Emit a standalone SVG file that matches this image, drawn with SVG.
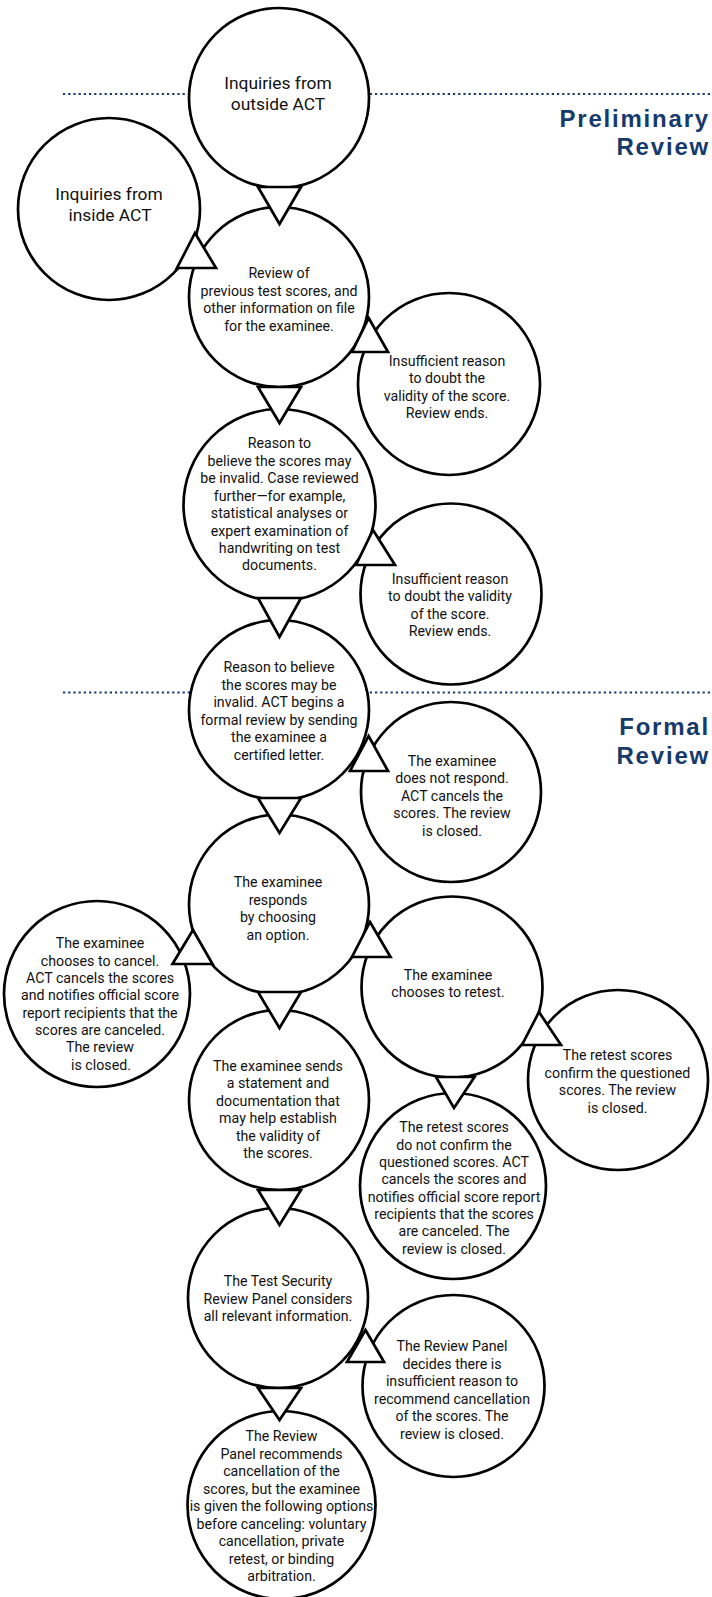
<svg xmlns="http://www.w3.org/2000/svg" width="712" height="1597" viewBox="0 0 712 1597">
<style>
.c{fill:#fff;stroke:#000;stroke-width:2.7}
.t{fill:#fff;stroke:#000;stroke-width:2.7;stroke-linejoin:miter}
.s{font-family:Roboto,"Liberation Sans",sans-serif;font-size:14.2px;fill:#111;text-anchor:middle}
.l{font-family:Roboto,"Liberation Sans",sans-serif;font-size:17.4px;fill:#111;text-anchor:middle}
.h{font-family:"Liberation Sans",Arial,sans-serif;font-size:24px;font-weight:700;fill:#173a6c;text-anchor:end;letter-spacing:1.8px}
.d{stroke:#173a6c;stroke-width:2.2;stroke-dasharray:2.2 3;fill:none}
</style>
<rect width="712" height="1597" fill="#fff"/>
<g id="section-lines">
<line class="d" x1="63" y1="94" x2="710" y2="94"/>
<line class="d" x1="63" y1="692.5" x2="710" y2="692.5"/>
</g>
<g id="section-titles">
<text class="h"><tspan x="710" y="127">Preliminary</tspan><tspan x="710" y="154.5">Review</tspan></text>
<text class="h"><tspan x="710" y="735">Formal</tspan><tspan x="710" y="763.5">Review</tspan></text>
</g>
<g id="n-outside"><circle class="c" cx="279" cy="98" r="90"/>
<text class="l" x="278" y="89">Inquiries from</text><text class="l" x="278" y="110">outside ACT</text></g>
<g id="n-inside"><circle class="c" cx="109" cy="209" r="91"/>
<text class="l" x="109" y="200">Inquiries from</text><text class="l" x="110" y="221">inside ACT</text></g>
<g id="n-review"><circle class="c" cx="279" cy="297" r="90"/>
<text class="s" x="279"><tspan x="279" y="277.5">Review of</tspan><tspan x="279" y="295.5">previous test scores, and</tspan><tspan x="279" y="313">other information on file</tspan><tspan x="279" y="331">for the examinee.</tspan></text></g>
<g id="n-insuff1"><circle class="c" cx="449" cy="384" r="91"/>
<text class="s"><tspan x="447" y="365.5">Insufficient reason</tspan><tspan x="447" y="383">to doubt the</tspan><tspan x="447" y="401">validity of the score.</tspan><tspan x="447" y="418">Review ends.</tspan></text></g>
<g id="n-reason"><circle class="c" cx="279.5" cy="505" r="96"/>
<text class="s"><tspan x="279.5" y="448">Reason to</tspan><tspan x="279.5" y="465.5">believe the scores may</tspan><tspan x="279.5" y="483">be invalid. Case reviewed</tspan><tspan x="279.5" y="500.5">further—for example,</tspan><tspan x="279.5" y="518">statistical analyses or</tspan><tspan x="279.5" y="535.5">expert examination of</tspan><tspan x="279.5" y="553">handwriting on test</tspan><tspan x="279.5" y="570">documents.</tspan></text></g>
<g id="n-insuff2"><circle class="c" cx="451" cy="594" r="90.5"/>
<text class="s"><tspan x="450" y="583.5">Insufficient reason</tspan><tspan x="450" y="600.5">to doubt the validity</tspan><tspan x="450" y="618.5">of the score.</tspan><tspan x="450" y="635.5">Review ends.</tspan></text></g>
<g id="n-formal"><circle class="c" cx="279" cy="710" r="90"/>
<text class="s"><tspan x="279" y="672">Reason to believe</tspan><tspan x="279" y="689.5">the scores may be</tspan><tspan x="279" y="707">invalid. ACT begins a</tspan><tspan x="279" y="724.5">formal review by sending</tspan><tspan x="279" y="742">the examinee a</tspan><tspan x="279" y="759.5">certified letter.</tspan></text></g>
<g id="n-norespond"><circle class="c" cx="451" cy="792" r="90"/>
<text class="s"><tspan x="452" y="765.5">The examinee</tspan><tspan x="452" y="783">does not respond.</tspan><tspan x="452" y="800.5">ACT cancels the</tspan><tspan x="452" y="818">scores. The review</tspan><tspan x="452" y="835.5">is closed.</tspan></text></g>
<g id="n-responds"><circle class="c" cx="279" cy="904.5" r="90"/>
<text class="s"><tspan x="278" y="887">The examinee</tspan><tspan x="278" y="904.5">responds</tspan><tspan x="278" y="922">by choosing</tspan><tspan x="278" y="940">an option.</tspan></text></g>
<g id="n-cancel"><circle class="c" cx="97" cy="994" r="93"/>
<text class="s"><tspan x="100" y="948">The examinee</tspan><tspan x="100" y="965.5">chooses to cancel.</tspan><tspan x="100" y="983">ACT cancels the scores</tspan><tspan x="100" y="1000">and notifies official score</tspan><tspan x="100" y="1017.5">report recipients that the</tspan><tspan x="100" y="1034.5">scores are canceled.</tspan><tspan x="100" y="1052">The review</tspan><tspan x="101" y="1069.5">is closed.</tspan></text></g>
<g id="n-retest"><circle class="c" cx="452" cy="987" r="90.5"/>
<text class="s"><tspan x="448" y="979.5">The examinee</tspan><tspan x="448" y="997">chooses to retest.</tspan></text></g>
<g id="n-sends"><circle class="c" cx="279" cy="1100" r="90"/>
<text class="s"><tspan x="278" y="1070.5">The examinee sends</tspan><tspan x="278" y="1088">a statement and</tspan><tspan x="278" y="1105.5">documentation that</tspan><tspan x="278" y="1123">may help establish</tspan><tspan x="278" y="1140.5">the validity of</tspan><tspan x="278" y="1158">the scores.</tspan></text></g>
<g id="n-confirm"><circle class="c" cx="618" cy="1080" r="90"/>
<text class="s"><tspan x="617.5" y="1060">The retest scores</tspan><tspan x="617.5" y="1078">confirm the questioned</tspan><tspan x="617.5" y="1095">scores. The review</tspan><tspan x="617.5" y="1112.5">is closed.</tspan></text></g>
<g id="n-notconfirm"><circle class="c" cx="453" cy="1186" r="93"/>
<text class="s"><tspan x="454" y="1132">The retest scores</tspan><tspan x="454" y="1149.5">do not confirm the</tspan><tspan x="454" y="1166.5">questioned scores. ACT</tspan><tspan x="454" y="1184">cancels the scores and</tspan><tspan x="454" y="1201.5">notifies official score report</tspan><tspan x="454" y="1218.5">recipients that the scores</tspan><tspan x="454" y="1236">are canceled. The</tspan><tspan x="454" y="1253.5">review is closed.</tspan></text></g>
<g id="n-panel"><circle class="c" cx="278" cy="1298" r="90"/>
<text class="s"><tspan x="278" y="1285.5">The Test Security</tspan><tspan x="278" y="1303.5">Review Panel considers</tspan><tspan x="278" y="1320.5">all relevant information.</tspan></text></g>
<g id="n-decides"><circle class="c" cx="453.5" cy="1386" r="91"/>
<text class="s"><tspan x="452" y="1351">The Review Panel</tspan><tspan x="452" y="1368.5">decides there is</tspan><tspan x="452" y="1386">insufficient reason to</tspan><tspan x="452" y="1403.5">recommend cancellation</tspan><tspan x="452" y="1420.5">of the scores. The</tspan><tspan x="452" y="1438.5">review is closed.</tspan></text></g>
<g id="n-recommends"><circle class="c" cx="281.5" cy="1505" r="94"/>
<text class="s"><tspan x="281.5" y="1441">The Review</tspan><tspan x="281.5" y="1458.5">Panel recommends</tspan><tspan x="281.5" y="1476">cancellation of the</tspan><tspan x="281.5" y="1494">scores, but the examinee</tspan><tspan x="281.5" y="1511">is given the following options</tspan><tspan x="281.5" y="1528.5">before canceling: voluntary</tspan><tspan x="281.5" y="1546">cancellation, private</tspan><tspan x="281.5" y="1563.5">retest, or binding</tspan><tspan x="281.5" y="1581">arbitration.</tspan></text></g>
<g id="connectors">
<polygon class="t" points="258,187 301,187 279.5,224"/>
<polygon class="t" points="195,233 216,268 177,268"/>
<polygon class="t" points="368.7,318 388,352 352,352"/>
<polygon class="t" points="258,387 301,387 279.5,423"/>
<polygon class="t" points="373,530 395,565 356,565"/>
<polygon class="t" points="258,598 301,598 279.5,637"/>
<polygon class="t" points="368.6,736 388,771 350,771"/>
<polygon class="t" points="258,798 301,798 279.5,833"/>
<polygon class="t" points="193,930 212.5,964 172.5,964"/>
<polygon class="t" points="370,922 390.5,957 352,957"/>
<polygon class="t" points="258,992 301,992 279.5,1028"/>
<polygon class="t" points="539,1012 561,1045 522,1045"/>
<polygon class="t" points="436,1077 474.5,1077 454,1108"/>
<polygon class="t" points="258,1190 301,1190 279.5,1225"/>
<polygon class="t" points="365.5,1330 384,1362 347,1362"/>
<polygon class="t" points="258,1388 301,1388 279.5,1420"/>
</g>
</svg>
